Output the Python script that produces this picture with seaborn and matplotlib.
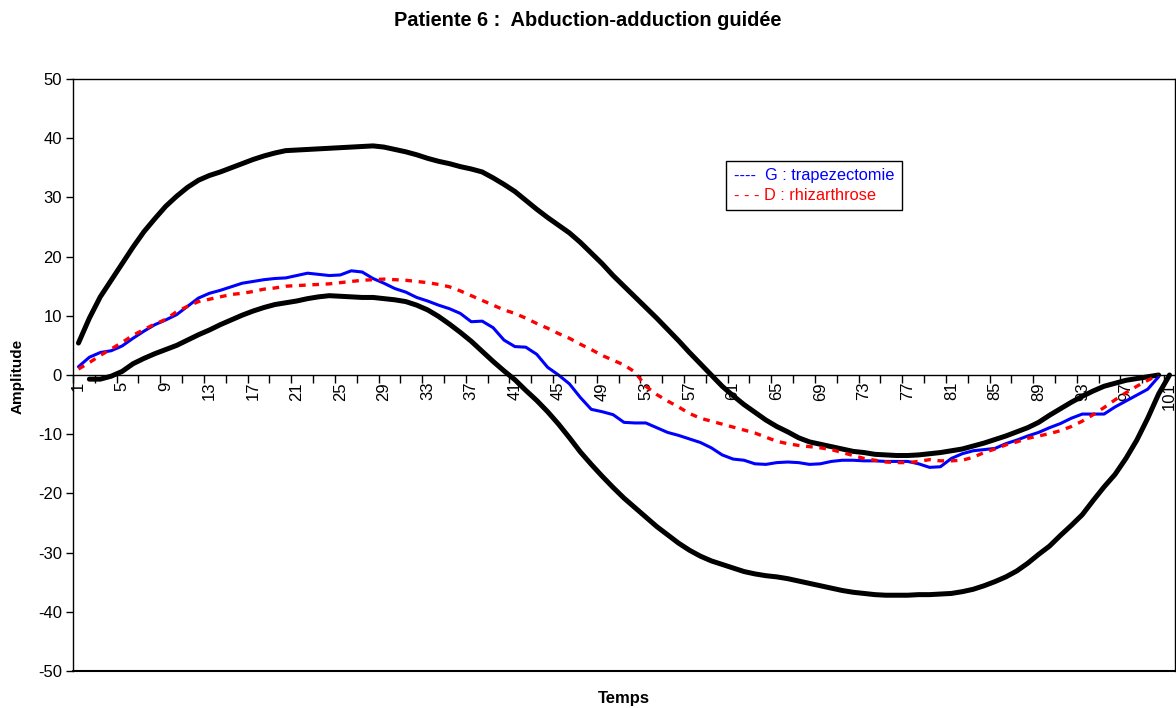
import numpy as np
import pandas as pd
import seaborn as sns
import matplotlib
matplotlib.use("Agg")
import matplotlib.pyplot as plt
from matplotlib.lines import Line2D

# values, one per time step
haut = [5.4, 9.6, 13.2, 16.0, 18.8, 21.6, 24.2, 26.4, 28.5, 30.2,
        31.7, 32.9, 33.7, 34.3, 35.0, 35.7, 36.4, 37.0, 37.5, 37.9,
        38.0, 38.1, 38.2, 38.3, 38.4, 38.5, 38.6, 38.7, 38.5, 38.1,
        37.7, 37.2, 36.6, 36.1, 35.7, 35.2, 34.8, 34.3, 33.3, 32.2,
        31.0, 29.5, 28.0, 26.6, 25.3, 24.0, 22.4, 20.6, 18.8, 16.8,
        15.0, 13.2, 11.4, 9.6, 7.7, 5.8, 3.8, 1.9, 0.0, -1.9,
        -3.5, -5.0, -6.3, -7.6, -8.7, -9.6, -10.6, -11.3, -11.7, -12.1,
        -12.5, -12.9, -13.1, -13.4, -13.5, -13.6, -13.6, -13.5, -13.3, -13.1,
        -12.8, -12.5, -12.0, -11.5, -10.9, -10.3, -9.6, -8.9, -8.0, -6.8,
        -5.7, -4.6, -3.6, -2.7, -1.9, -1.4, -0.9, -0.6, -0.3, 0.0]

# lower black curve starts at step 2
bas = [-0.7, -0.7, -0.2, 0.6, 1.9, 2.8, 3.6, 4.3, 5.0,
       5.9, 6.8, 7.6, 8.5, 9.3, 10.1, 10.8, 11.4, 11.9, 12.2,
       12.5, 12.9, 13.2, 13.4, 13.3, 13.2, 13.1, 13.1, 12.9, 12.7,
       12.4, 11.8, 11.0, 9.9, 8.6, 7.2, 5.7, 4.0, 2.3, 0.7,
       -0.8, -2.6, -4.3, -6.2, -8.3, -10.6, -13.0, -15.1, -17.1, -19.0,
       -20.8, -22.4, -24.0, -25.6, -27.0, -28.4, -29.6, -30.6, -31.4, -32.0,
       -32.6, -33.2, -33.6, -33.9, -34.1, -34.4, -34.8, -35.2, -35.6, -36.0,
       -36.4, -36.7, -36.9, -37.1, -37.2, -37.2, -37.2, -37.1, -37.1, -37.0,
       -36.9, -36.6, -36.2, -35.6, -34.9, -34.1, -33.1, -31.8, -30.3, -28.9,
       -27.1, -25.4, -23.6, -21.2, -18.9, -16.8, -14.1, -11.0, -7.3, -3.2,
       0.0]

gauche = [1.4, 3.0, 3.8, 4.1, 4.9, 6.2, 7.4, 8.5, 9.3, 10.2,
          11.6, 13.0, 13.8, 14.3, 14.9, 15.5, 15.8, 16.1, 16.3, 16.4,
          16.8, 17.2, 17.0, 16.8, 16.9, 17.6, 17.4, 16.3, 15.5, 14.6,
          14.0, 13.1, 12.5, 11.8, 11.2, 10.4, 9.0, 9.1, 8.0, 5.9,
          4.8, 4.7, 3.5, 1.3, 0.0, -1.5, -3.8, -5.8, -6.2, -6.7,
          -8.0, -8.1, -8.1, -8.9, -9.7, -10.2, -10.8, -11.4, -12.3, -13.5,
          -14.2, -14.4, -15.0, -15.1, -14.8, -14.7, -14.8, -15.1, -15.0, -14.6,
          -14.4, -14.4, -14.5, -14.5, -14.6, -14.6, -14.6, -15.0, -15.6, -15.5,
          -14.1, -13.3, -12.8, -12.6, -12.4, -11.6, -11.0, -10.3, -9.7, -8.9,
          -8.2, -7.3, -6.6, -6.6, -6.6, -5.4, -4.4, -3.4, -2.4, -0.3]

droite = [1.0, 2.1, 3.3, 4.4, 5.5, 6.7, 7.7, 8.6, 9.4, 10.7,
          11.6, 12.4, 12.8, 13.2, 13.6, 13.8, 14.1, 14.5, 14.7, 15.0,
          15.1, 15.2, 15.3, 15.4, 15.6, 15.8, 16.0, 16.1, 16.2, 16.1,
          16.0, 15.8, 15.6, 15.3, 14.9, 14.2, 13.4, 12.6, 11.8, 11.0,
          10.4, 9.6, 8.7, 7.9, 7.0, 6.2, 5.2, 4.3, 3.3, 2.5,
          1.7, 0.5, -1.9, -3.3, -4.4, -5.4, -6.5, -7.3, -7.8, -8.3,
          -8.8, -9.3, -9.8, -10.5, -11.2, -11.6, -11.9, -12.1, -12.3, -12.6,
          -13.1, -13.6, -14.1, -14.4, -14.7, -14.8, -14.8, -14.6, -14.3, -14.5,
          -14.5, -14.4, -13.9, -13.1, -12.5, -11.8, -11.3, -10.7, -10.3, -9.9,
          -9.4, -8.7, -7.8, -6.7, -5.5, -4.2, -3.0, -1.9, -0.9, 0.0]

temps = np.arange(1, 101)
temps_bas = np.arange(2, 102)
tick_labels = np.arange(1, 102, 4)

sns.set_theme(style="white")
plt.rcParams['font.family'] = ['Liberation Sans', 'DejaVu Sans']
plt.rcParams['axes.unicode_minus'] = False
plt.rcParams['text.color'] = 'black'
plt.rcParams['xtick.color'] = 'black'
plt.rcParams['ytick.color'] = 'black'

fig = plt.figure(figsize=(11.76, 7.08), dpi=100)
ax = fig.add_axes([73/1176, 1 - 671/708, 1102/1176, 592/708])

sns.lineplot(x=temps, y=haut, ax=ax, color='black', linewidth=3.6)
sns.lineplot(x=temps_bas, y=bas, ax=ax, color='black', linewidth=3.6)
sns.lineplot(x=temps, y=gauche, ax=ax, color='#0000FF', linewidth=2.2)
sns.lineplot(x=temps, y=droite, ax=ax, color='#FF0000', linewidth=2.4,
             linestyle=(0, (2, 2)))

ax.set_xlim(0.5, 101.5)
ax.set_ylim(-50, 50)
ax.set_yticks(np.arange(-50, 51, 10))
ax.set_xticks(tick_labels)
ax.set_xticklabels([str(t) for t in tick_labels])
ax.set_xticks(np.arange(0.5, 101, 2), minor=True)
ax.tick_params(axis='x', which='major', bottom=True, length=0, pad=5,
               labelsize=12, labelrotation=90, labelcolor='black')
ax.tick_params(axis='x', which='minor', bottom=True, length=6, width=1,
               direction='out', color='black')
ax.tick_params(axis='y', left=True, length=5, width=1, direction='out',
               color='black', labelcolor='black', labelsize=12, pad=3)
ax.set_xlabel('')
ax.set_ylabel('')

for s in ax.spines.values():
    s.set_color('black')
    s.set_linewidth(1)
ax.spines['bottom'].set_position(('data', 0))
ax.plot([0, 1], [0, 0], transform=ax.transAxes, color='black', lw=1.5,
        clip_on=False)

handles = [Line2D([], [], alpha=0), Line2D([], [], alpha=0)]
leg = ax.legend(handles, ['----  G : trapezectomie', '- - - D : rhizarthrose'],
                loc='upper left', bbox_to_anchor=(0.593, 0.862),
                borderaxespad=0, handlelength=0, handletextpad=0,
                labelcolor=['#0000FF', '#FF0000'], fontsize=11.8,
                fancybox=False, framealpha=1, edgecolor='black',
                borderpad=0.45, labelspacing=0.3)
leg.get_frame().set_linewidth(1)

fig.text(0.5, 1 - 21/708, 'Patiente 6 :  Abduction-adduction guidée',
         ha='center', va='center', fontsize=14.4, fontweight='bold',
         color='black')
fig.text(18/1176, 1 - 376/708, 'Amplitude', rotation=90, ha='center',
         va='center', fontsize=11, fontweight='bold', color='black')
fig.text(624/1176, 1 - 699/708, 'Temps', ha='center', va='center',
         fontsize=12, fontweight='bold', color='black')

fig.savefig('out.png', dpi=100)
